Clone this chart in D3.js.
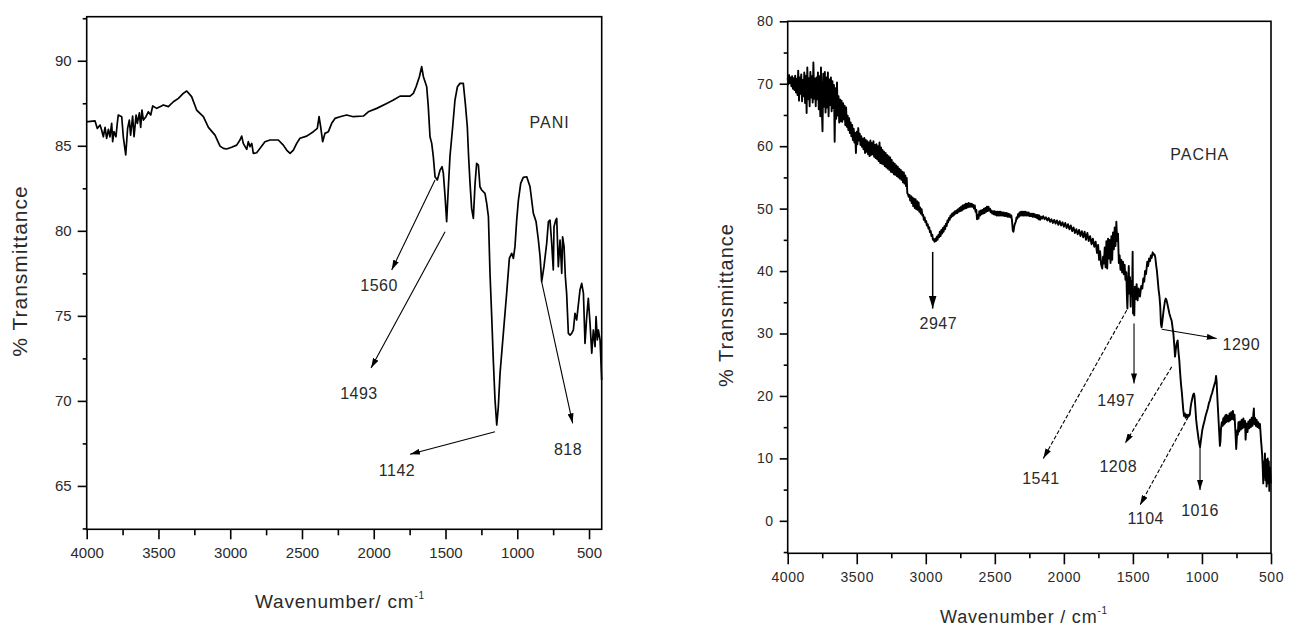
<!DOCTYPE html>
<html>
<head>
<meta charset="utf-8">
<script src="https://d3js.org/d3.v7.min.js"></script>
<style>
  body { margin: 0; background: #fff; }
  svg text { font-family: "Liberation Sans", Arial, sans-serif; fill: #2a2a2a; }
</style>
</head>
<body>
<svg id="chart" width="1293" height="630"></svg>
<script>
// ---- data: [wavenumber cm-1, % transmittance] ----
const pani = [
  [3998,86.42],[3988.6,86.42],[3942,86.46],[3926,86.02],[3907,86.22],[3896,85.93],[3884,85.53],[3872,86.08],
  [3861,85.44],[3849,85.97],[3838,85.53],[3826,86.32],[3819,85.24],[3810,85.83],[3796,85.53],[3787,86.32],
  [3780,86.81],[3756,86.71],[3745,85.53],[3728,84.46],[3715,86.02],[3703,86.51],[3694,85.63],[3680,86.75],
  [3670,85.53],[3656,86.81],[3647,86.32],[3633,86.94],[3624,86.08],[3615,87.10],[3605,86.51],[3587,86.71],
  [3571,87.00],[3554,86.81],[3540,87.34],[3512,87.20],[3489,87.30],[3466,87.40],[3431,87.30],[3396,87.59],
  [3361,87.79],[3327,88.08],[3303,88.22],[3269,87.89],[3234,87.10],[3187,86.71],[3152,86.08],[3106,85.63],
  [3071,84.98],[3048,84.85],[3025,84.81],[2990,84.91],[2955,85.04],[2932,85.34],[2920,85.57],[2909,85.14],
  [2885,84.79],[2874,85.24],[2862,84.95],[2850,85.14],[2839,84.55],[2816,84.59],[2792,84.85],[2758,85.24],
  [2723,85.34],[2665,85.34],[2630,85.04],[2607,84.75],[2583,84.55],[2560,84.75],[2537,85.14],[2514,85.44],
  [2467,85.57],[2421,85.83],[2393,86.02],[2381,86.71],[2370,86.12],[2356,85.24],[2340,85.73],[2316,85.83],
  [2293,86.32],[2270,86.61],[2235,86.71],[2189,86.81],[2142,86.71],[2072,86.75],[2038,87.00],[1979,87.20],
  [1910,87.49],[1863,87.69],[1817,87.92],[1747,87.92],[1724,88.08],[1705,88.47],[1682,89.06],[1666,89.65],
  [1654,89.06],[1631,88.47],[1620,87.30],[1608,85.53],[1596,85.14],[1585,84.36],[1573,83.18],[1557,82.99],
  [1538,83.57],[1524,83.77],[1515,83.38],[1503,82.01],[1492,80.54],[1480,82.59],[1469,84.36],[1450,86.12],
  [1434,87.69],[1417,88.47],[1399,88.67],[1376,88.67],[1362,87.49],[1348,86.12],[1339,84.36],[1329,82.79],
  [1318,81.32],[1306,80.73],[1294,82.79],[1283,83.97],[1271,83.87],[1260,82.59],[1248,82.40],[1225,82.20],
  [1213,81.61],[1201,80.83],[1190,77.50],[1178,74.95],[1167,72.40],[1155,70.05],[1143,68.58],[1132,69.66],
  [1120,71.62],[1097,73.97],[1074,76.32],[1055,78.38],[1039,78.68],[1027,78.38],[1016,79.07],[1004,80.63],
  [992,81.81],[976,82.79],[958,83.14],[934,83.18],[911,82.59],[888,81.03],[869,80.54],[853,79.46],
  [841,78.48],[830,77.01],[814,77.89],[795,79.26],[783,80.54],[772,80.63],[760,79.26],[749,77.70],
  [744,80.24],[732,80.63],[725,80.73],[714,77.89],[702,79.46],[690,77.50],[684,79.65],[674,79.07],
  [665,77.30],[656,76.32],[644,73.97],[632,73.87],[621,73.97],[609,74.17],[598,75.15],[586,74.76],
  [563,76.52],[551,76.91],[539,76.32],[528,73.38],[516,74.95],[505,76.03],[493,74.56],[481,72.80],
  [470,74.17],[458,73.19],[451,74.95],[442,73.58],[435,74.17],[423,73.58],[412,71.23]
];

const pacha = [
  [4000,70.9],[3995,69.9],[3990,71.4],[3984,70.1],[3979,71.0],[3973,69.6],[3968,71.2],[3962,69.2],[3957,70.9],
  [3951,69.0],[3946,71.3],[3940,68.6],[3935,70.8],[3929,68.2],[3924,72.1],[3918,67.3],[3913,71.0],[3907,68.4],
  [3902,71.5],[3896,67.2],[3891,70.6],[3885,68.0],[3880,71.8],[3874,66.9],[3869,71.3],[3863,65.3],[3858,72.6],
  [3852,67.5],[3847,70.9],[3841,66.4],[3836,71.9],[3830,67.8],[3825,71.2],[3819,67.0],[3814,73.4],[3808,67.6],
  [3803,70.8],[3797,66.4],[3792,71.0],[3786,67.5],[3781,71.8],[3775,65.9],[3770,71.2],[3764,64.8],[3759,72.6],
  [3753,66.0],[3748,62.4],[3742,71.6],[3737,66.3],[3731,71.9],[3726,65.4],[3720,71.0],[3715,66.2],[3709,71.8],
  [3704,64.8],[3698,70.7],[3693,66.6],[3687,71.0],[3682,65.6],[3676,70.4],[3671,66.1],[3665,69.8],[3660,60.7],
  [3654,69.3],[3649,64.4],[3643,70.2],[3638,64.9],[3632,68.0],[3627,63.8],[3621,67.5],[3616,64.0],[3610,67.3],
  [3605,63.9],[3599,66.9],[3594,64.3],[3588,66.5],[3583,63.4],[3577,66.2],[3572,63.1],[3566,64.9],[3561,62.6],
  [3555,64.5],[3550,62.1],[3544,63.8],[3539,61.6],[3533,63.4],[3528,61.0],[3522,62.8],[3517,60.6],[3511,62.1],
  [3506,58.9],[3500,62.3],[3495,60.3],[3489,62.9],[3484,60.9],[3478,62.0],[3473,60.2],[3467,61.6],[3462,59.9],
  [3456,61.2],[3451,59.5],[3445,61.3],[3440,58.9],[3434,61.0],[3429,59.1],[3423,60.8],[3418,58.7],[3412,60.6],
  [3407,58.4],[3401,60.9],[3396,58.6],[3390,60.5],[3385,58.7],[3379,60.8],[3374,58.3],[3368,60.2],[3363,58.1],
  [3357,60.3],[3352,57.9],[3346,60.0],[3341,57.6],[3335,60.6],[3330,57.3],[3324,59.8],[3319,57.2],[3313,59.4],
  [3308,57.1],[3302,59.1],[3297,56.8],[3291,58.9],[3286,56.6],[3280,58.6],[3275,56.4],[3269,58.4],[3264,56.2],
  [3258,58.2],[3253,55.9],[3247,57.8],[3242,55.8],[3236,57.4],[3231,55.5],[3225,57.2],[3220,55.4],[3214,56.9],
  [3209,55.2],[3203,56.7],[3198,55.0],[3192,56.4],[3187,54.8],[3181,56.2],[3176,54.6],[3170,55.9],[3165,54.2],
  [3159,55.8],[3154,54.0],[3148,55.3],[3143,53.6],[3138,54.9],[3134,52.5],[3129,52.3],[3124,51.9],[3118,52.2],
  [3113,51.3],[3107,52.0],[3102,50.9],[3096,51.8],[3091,50.4],[3085,51.6],[3080,50.1],[3074,51.5],[3069,49.9],
  [3063,51.2],[3058,49.8],[3052,51.0],[3047,49.5],[3041,50.2],[3036,49.2],[3030,49.9],[3025,48.9],[3019,49.0],
  [3014,48.2],[3008,48.6],[3003,47.8],[2997,48.0],[2992,47.3],[2986,47.5],[2981,46.8],[2975,47.0],[2970,46.2],
  [2964,46.4],[2959,45.6],[2953,45.8],[2948,45.0],[2942,45.1],[2937,44.7],[2931,45.2],[2926,44.8],[2920,45.5],
  [2915,45.0],[2909,45.8],[2904,45.4],[2898,46.3],[2893,45.6],[2887,46.6],[2882,46.0],[2876,46.9],[2871,46.3],
  [2865,47.2],[2860,46.7],[2854,47.6],[2849,47.2],[2843,48.1],[2838,47.8],[2832,48.5],[2827,48.2],[2821,48.9],
  [2816,48.6],[2810,49.2],[2805,48.8],[2799,49.4],[2794,49.0],[2788,49.6],[2783,49.2],[2777,49.7],[2772,49.3],
  [2766,49.9],[2761,49.5],[2755,50.1],[2750,49.6],[2744,50.3],[2739,49.7],[2733,50.5],[2728,49.9],[2722,50.6],
  [2717,50.0],[2711,50.8],[2706,50.1],[2700,50.8],[2695,50.2],[2689,50.9],[2684,50.3],[2678,50.8],[2673,50.3],
  [2667,50.8],[2662,50.3],[2656,50.6],[2651,50.0],[2645,50.5],[2640,49.5],[2634,49.8],[2629,48.3],[2623,49.0],
  [2618,48.4],[2612,49.6],[2607,48.9],[2601,49.7],[2596,49.1],[2590,49.8],[2585,49.2],[2579,50.0],[2574,49.3],
  [2568,50.1],[2563,49.5],[2557,50.3],[2552,49.6],[2546,50.3],[2541,49.7],[2535,50.0],[2530,49.4],[2524,49.7],
  [2519,49.2],[2513,49.6],[2508,49.1],[2502,49.6],[2497,49.0],[2491,49.5],[2486,48.9],[2480,49.5],[2475,48.9],
  [2469,49.5],[2464,48.9],[2458,49.5],[2453,48.9],[2447,49.4],[2442,48.9],[2436,49.4],[2431,48.8],[2425,49.3],
  [2420,48.8],[2414,49.3],[2409,48.7],[2403,49.2],[2398,48.7],[2392,49.1],[2387,48.6],[2381,48.9],[2376,48.2],
  [2370,46.5],[2365,46.3],[2359,47.2],[2354,47.6],[2348,47.9],[2343,48.6],[2337,48.4],[2332,49.1],[2326,48.7],
  [2321,49.4],[2315,48.9],[2310,49.5],[2304,48.9],[2299,49.5],[2293,48.9],[2288,49.5],[2282,48.9],[2277,49.5],
  [2271,48.9],[2266,49.4],[2260,48.9],[2255,49.4],[2249,48.8],[2244,49.2],[2238,48.8],[2233,49.2],[2227,48.7],
  [2222,49.2],[2216,48.7],[2211,49.1],[2205,48.6],[2200,49.0],[2194,48.5],[2189,49.0],[2183,48.3],[2178,48.9],
  [2172,48.2],[2166,48.7],[2158,48.4],[2150,48.8],[2140,48.3],[2130,48.6],[2120,48.1],[2110,48.5],[2100,47.9],
  [2090,48.3],[2080,47.7],[2070,48.2],[2060,47.6],[2050,48.1],[2040,47.4],[2030,48.0],[2020,47.3],[2010,47.8],
  [2000,47.1],[1990,47.7],[1980,46.9],[1970,47.5],[1960,46.7],[1950,47.3],[1940,46.4],[1930,47.0],[1920,46.1],
  [1910,46.7],[1900,45.9],[1890,46.6],[1880,45.6],[1870,46.4],[1860,45.4],[1850,46.3],[1840,45.0],[1830,46.1],
  [1820,44.8],[1810,45.6],[1800,44.3],[1790,45.2],[1780,43.9],[1770,44.7],[1760,42.9],[1752,44.2],[1745,41.8],
  [1738,43.2],[1730,41.0],[1722,40.4],[1716,42.3],[1710,41.2],[1704,43.8],[1698,40.6],[1692,44.8],[1686,40.4],
  [1680,45.2],[1674,42.0],[1668,45.0],[1662,41.3],[1656,45.6],[1650,41.8],[1644,46.2],[1638,43.5],[1632,47.0],
  [1626,44.0],[1620,47.9],[1614,44.8],[1608,46.0],[1602,41.3],[1596,42.5],[1590,40.2],[1584,41.8],[1578,39.8],
  [1572,41.5],[1566,39.5],[1560,41.0],[1554,38.6],[1548,39.8],[1543,35.5],[1540,34.0],[1535,37.8],[1530,40.8],
  [1526,36.4],[1521,39.0],[1516,34.3],[1512,38.4],[1506,36.0],[1502,43.1],[1499,33.2],[1494,37.0],[1490,32.9],
  [1486,37.5],[1480,35.5],[1473,37.9],[1466,35.3],[1458,37.2],[1449,35.9],[1440,37.6],[1432,37.2],[1425,38.8],
  [1418,38.3],[1412,40.0],[1405,39.5],[1396,41.5],[1390,40.8],[1383,42.0],[1376,41.6],[1370,42.5],[1364,42.1],
  [1357,43.0],[1350,42.6],[1344,42.7],[1338,42.2],[1332,41.0],[1326,40.0],[1320,38.5],[1314,37.0],[1308,36.0],
  [1302,34.3],[1297,31.5],[1292,31.0],[1284,32.5],[1276,34.0],[1268,35.2],[1262,35.6],[1256,35.3],[1248,34.5],
  [1236,33.2],[1228,32.6],[1219,32.0],[1207,30.0],[1200,28.0],[1195,26.3],[1189,27.5],[1183,28.4],[1176,28.9],
  [1170,27.0],[1164,25.7],[1159,24.0],[1154,22.5],[1150,21.5],[1145,20.4],[1140,19.0],[1135,17.7],[1130,16.8],
  [1124,17.2],[1118,16.5],[1112,17.0],[1106,16.6],[1100,17.0],[1094,16.8],[1088,17.0],[1082,18.2],[1076,19.0],
  [1070,19.6],[1064,20.2],[1058,20.4],[1054,20.0],[1050,18.8],[1046,17.5],[1042,16.2],[1036,15.0],[1030,14.0],
  [1024,13.0],[1018,12.2],[1014,11.8],[1010,12.5],[1004,13.5],[998,14.5],[990,15.3],[982,16.0],[974,16.8],
  [966,17.4],[958,18.0],[950,18.8],[942,19.3],[934,20.0],[926,20.5],[918,21.2],[910,21.8],[902,22.4],
  [898,23.2],[894,22.4],[888,19.5],[882,17.0],[876,14.5],[870,12.0],[866,12.8],[862,14.8],[856,15.8],
  [850,15.2],[846,16.4],[842,15.4],[838,16.6],[834,15.6],[830,16.9],[826,15.8],[822,17.0],[818,15.9],
  [812,16.8],[806,15.9],[800,17.2],[794,16.1],[788,17.4],[782,16.3],[776,17.6],[770,16.2],[764,17.0],
  [760,15.2],[756,13.5],[752,11.5],[748,13.0],[744,14.5],[740,13.8],[736,15.8],[730,14.3],[724,15.9],
  [718,14.6],[712,16.2],[706,14.8],[700,16.4],[694,15.0],[688,16.0],[684,13.0],[680,14.5],[676,15.6],
  [670,14.2],[664,15.9],[658,14.8],[652,16.2],[646,15.0],[640,16.5],[634,15.2],[628,17.0],[624,18.0],
  [620,15.5],[616,16.5],[610,15.2],[604,16.2],[598,15.0],[592,15.8],[586,14.8],[580,15.5],[576,14.2],
  [572,12.8],[568,11.8],[564,10.5],[560,8.5],[556,6.0],[552,9.5],[548,7.0],[544,10.8],[540,6.5],
  [536,9.8],[532,5.5],[528,8.2],[524,10.0],[520,6.0],[516,9.5],[512,4.8],[508,8.5],[504,7.0],[501,6.0]
];

// axis ticks
const xTicks = [4000, 3500, 3000, 2500, 2000, 1500, 1000, 500];
const xMinor = [3750, 3250, 2750, 2250, 1750, 1250, 750];
const paniYTicks = [65, 70, 75, 80, 85, 90];
const paniYMinor = [62.5, 67.5, 72.5, 77.5, 82.5, 87.5, 92.5];
const pachaYTicks = [0, 10, 20, 30, 40, 50, 60, 70, 80];
const pachaYMinor = [-5, 5, 15, 25, 35, 45, 55, 65, 75];

// peak labels: arrow start, arrow end, label centre (data units)
const paniPeaks = [
  { label: "1560", from: [1573, 82.99], to: [1875, 77.7], at: [1963, 76.81] },
  { label: "1493", from: [1503, 79.95], to: [2019, 71.93], at: [2103, 70.44] },
  { label: "1142", from: [1155, 68.19], to: [1747, 66.86], at: [1838, 65.88] },
  { label: "818",  from: [830, 77.0],   to: [614, 68.68],  at: [646, 67.17] }
];
const pachaPeaks = [
  { label: "2947", from: [2950, 43.07], to: [2950, 34.0], at: [2909, 31.6], big: true },
  { label: "1541", from: [1545, 33.73], to: [2149, 9.99], at: [2166, 6.79], dash: true },
  { label: "1497", from: [1492, 31.6],  to: [1492, 22.0], at: [1622, 19.32] },
  { label: "1290", from: [1291, 30.69], to: [893, 29.2],  at: [715, 28.29] },
  { label: "1208", from: [1219, 24.66], to: [1557, 12.39], at: [1606, 8.65], dash: true },
  { label: "1104", from: [1099, 16.65], to: [1449, 2.51], at: [1407, 0.38], dash: true },
  { label: "1016", from: [1014, 11.85], to: [1014, 4.92], at: [1014, 1.71] }
];

const svg = d3.select("#chart");

const defs = svg.append("defs");
defs.append("marker").attr("id", "head").attr("viewBox", "0 0 10 6")
  .attr("refX", 10).attr("refY", 3).attr("markerWidth", 10).attr("markerHeight", 6)
  .attr("markerUnits", "userSpaceOnUse").attr("orient", "auto")
  .append("path").attr("d", "M0,0 L10,3 L0,6 z").attr("fill", "#000");
defs.append("marker").attr("id", "headBig").attr("viewBox", "0 0 10 6")
  .attr("refX", 10).attr("refY", 3).attr("markerWidth", 13).attr("markerHeight", 8)
  .attr("markerUnits", "userSpaceOnUse").attr("orient", "auto")
  .append("path").attr("d", "M0,0 L10,3 L0,6 z").attr("fill", "#000");

function drawPanel(p) {
  const x = d3.scaleLinear().domain(p.xDomain).range(p.xRange);
  const y = d3.scaleLinear().domain(p.yDomain).range(p.yRange);
  const g = svg.append("g");
  const left = p.xRange[0], bottom = p.yRange[0];

  const yMinorAxis = g.append("g").attr("transform", `translate(${left},0)`)
    .call(d3.axisLeft(y).tickValues(p.yMinor).tickSize(p.yMinorLen).tickFormat(""));
  const yAxis = g.append("g").attr("transform", `translate(${left},0)`)
    .call(d3.axisLeft(y).tickValues(p.yTicks).tickSize(p.yTickLen).tickPadding(p.yPad).tickFormat(d3.format("d")));
  const xMinorAxis = g.append("g").attr("transform", `translate(0,${bottom})`)
    .call(d3.axisBottom(x).tickValues(xMinor).tickSize(p.xMinorLen).tickFormat(""));
  const xAxis = g.append("g").attr("transform", `translate(0,${bottom})`)
    .call(d3.axisBottom(x).tickValues(xTicks).tickSize(p.xTickLen).tickPadding(p.xPad).tickFormat(d3.format("d")));

  [yMinorAxis, yAxis, xMinorAxis, xAxis].forEach(a => {
    a.select(".domain").remove();
    a.selectAll("line").attr("stroke", "#000").attr("stroke-width", 1.6);
    a.selectAll("text").attr("fill", "#2a2a2a")
      .style("font-size", p.tickFont + "px").style("letter-spacing", p.tickSpacing + "px");
  });

  // frame
  g.append("rect")
    .attr("x", p.xRange[0]).attr("y", p.yRange[1])
    .attr("width", p.xRange[1] - p.xRange[0]).attr("height", p.yRange[0] - p.yRange[1])
    .attr("fill", "none").attr("stroke", "#000").attr("stroke-width", 1.6);

  // spectrum
  g.append("path").datum(p.data)
    .attr("fill", "none").attr("stroke", "#000").attr("stroke-width", p.lineWidth)
    .attr("stroke-linejoin", "round")
    .attr("d", d3.line().x(d => x(d[0])).y(d => y(d[1])));

  // arrows + peak labels
  p.peaks.forEach(pk => {
    g.append("line")
      .attr("x1", x(pk.from[0])).attr("y1", y(pk.from[1]))
      .attr("x2", x(pk.to[0])).attr("y2", y(pk.to[1]))
      .attr("stroke", "#000").attr("stroke-width", pk.big ? 1.5 : 1.1)
      .attr("stroke-dasharray", pk.dash ? "4,2" : null)
      .attr("marker-end", pk.big ? "url(#headBig)" : "url(#head)");
    g.append("text")
      .attr("x", x(pk.at[0])).attr("y", y(pk.at[1]))
      .attr("text-anchor", "middle").attr("dominant-baseline", "central")
      .style("font-size", p.peakFont + "px").style("letter-spacing", "0.5px")
      .text(pk.label);
  });

  g.append("text")
    .attr("x", x(p.name.at[0])).attr("y", y(p.name.at[1]))
    .attr("text-anchor", "middle").attr("dominant-baseline", "central")
    .style("font-size", p.peakFont + "px").style("letter-spacing", "1px")
    .text(p.name.text);

  // axis titles
  const xt = g.append("text")
    .attr("x", p.xTitle[0]).attr("y", p.xTitle[1])
    .attr("text-anchor", "middle")
    .style("font-size", p.titleFont + "px").style("letter-spacing", "0.8px")
    .text(p.xTitleText);
  xt.append("tspan").attr("dy", -9).style("font-size", "10px").text("-1");

  g.append("text")
    .attr("transform", `translate(${p.yTitle[0]},${p.yTitle[1]}) rotate(-90)`)
    .attr("text-anchor", "middle").attr("dominant-baseline", "central")
    .style("font-size", p.yTitleFont + "px").style("letter-spacing", "1px")
    .text("% Transmittance");
}

drawPanel({
  data: pani, peaks: paniPeaks, name: { text: "PANI", at: [775, 86.34] },
  xDomain: [4000, 411.7], xRange: [86.7, 601.7],
  yDomain: [62.45, 92.59], yRange: [529.3, 16.7],
  yTicks: paniYTicks, yMinor: paniYMinor,
  yTickLen: 9, yMinorLen: 4, yPad: 6, xTickLen: 10, xMinorLen: 6, xPad: 8,
  tickFont: 15, tickSpacing: 0, peakFont: 16, lineWidth: 1.7,
  xTitle: [340, 608], xTitleText: "Wavenumber/ cm", titleFont: 19,
  yTitle: [19, 271], yTitleFont: 21
});

drawPanel({
  data: pacha, peaks: pachaPeaks, name: { text: "PACHA", at: [1016, 58.74] },
  xDomain: [4000, 500], xRange: [787.7, 1271],
  yDomain: [-5.2, 80], yRange: [553.3, 21.3],
  yTicks: pachaYTicks, yMinor: pachaYMinor,
  yTickLen: 8, yMinorLen: 4, yPad: 6, xTickLen: 11, xMinorLen: 5, xPad: 8,
  tickFont: 14, tickSpacing: 0.6, peakFont: 16, lineWidth: 1.9,
  xTitle: [1024, 623], xTitleText: "Wavenumber / cm", titleFont: 18,
  yTitle: [726, 305], yTitleFont: 20
});
</script>
</body>
</html>
